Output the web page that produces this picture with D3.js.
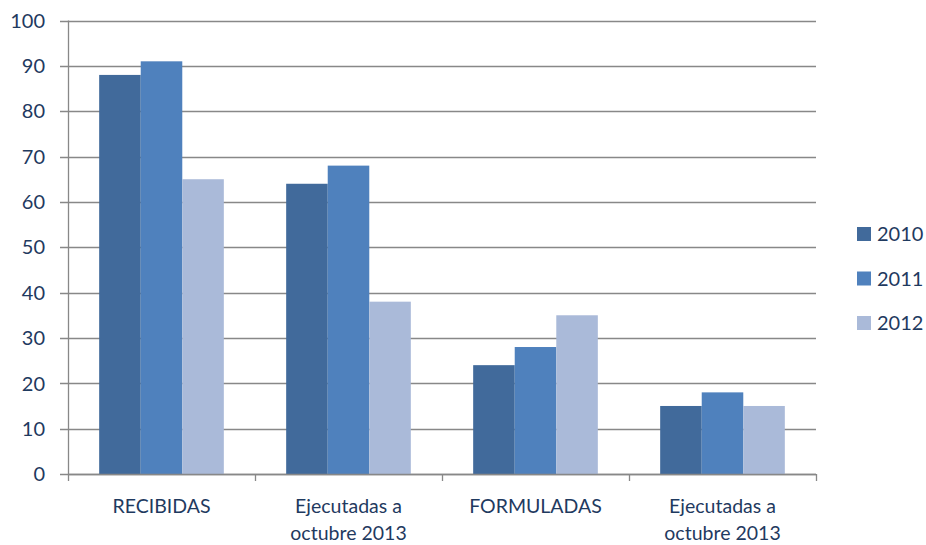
<!DOCTYPE html>
<html>
<head>
<meta charset="utf-8">
<script src="https://cdn.jsdelivr.net/npm/d3@7"></script>
<style>
  body { margin: 0; background: #fff; }
  svg { display: block; font-family: Lato, "Open Sans", sans-serif; }
</style>
</head>
<body>
<svg width="926" height="545"></svg>
<script>
var categories = ["RECIBIDAS", "Ejecutadas a\noctubre 2013", "FORMULADAS", "Ejecutadas a\noctubre 2013"];
var years = ["2010", "2011", "2012"];
var v2010 = [88, 64, 24, 15];
var v2011 = [91, 68, 28, 18];
var v2012 = [65, 38, 35, 15];
var yTicks = [0, 10, 20, 30, 40, 50, 60, 70, 80, 90, 100];
var colors = ["#416a9b", "#4f81bd", "#aabad9"];

var series = [v2010, v2011, v2012];
var textColor = "#1f3a5f";

var svg = d3.select("svg");
var plotLeft = 68, plotRight = 816, plotTop = 20.5, plotBottom = 474;

var x = d3.scaleBand()
    .domain(d3.range(categories.length))
    .range([plotLeft, plotRight]);

var xInner = d3.scaleBand()
    .domain(years)
    .range([0, x.bandwidth()])
    .paddingOuter(0.75)
    .paddingInner(0);

var y = d3.scaleLinear()
    .domain([0, 100])
    .range([plotBottom, plotTop]);

// gridlines
svg.append("g")
  .selectAll("line")
  .data(yTicks)
  .enter().append("line")
    .attr("x1", plotLeft - 8)
    .attr("x2", plotRight)
    .attr("y1", function(d) { return Math.round(y(d)) + 0.5; })
    .attr("y2", function(d) { return Math.round(y(d)) + 0.5; })
    .attr("stroke", "#888")
    .attr("stroke-width", 1.3);

// y labels
svg.append("g")
  .selectAll("text")
  .data(yTicks)
  .enter().append("text")
    .attr("x", 45)
    .attr("y", function(d) { return y(d); })
    .attr("dy", "0.36em")
    .attr("text-anchor", "end")
    .attr("font-size", 20)
    .attr("fill", textColor)
    .text(function(d) { return d; });

// bars
var group = svg.append("g")
  .selectAll("g")
  .data(categories)
  .enter().append("g")
    .attr("transform", function(d, i) { return "translate(" + x(i) + ",0)"; });

group.selectAll("rect")
  .data(function(d, i) { return years.map(function(yr, j) { return { year: yr, value: series[j][i], j: j }; }); })
  .enter().append("rect")
    .attr("x", function(d) { return xInner(d.year); })
    .attr("width", xInner.bandwidth())
    .attr("y", function(d) { return y(d.value); })
    .attr("height", function(d) { return plotBottom - y(d.value); })
    .attr("fill", function(d) { return colors[d.j]; });

// y axis line
svg.append("line")
    .attr("x1", plotLeft + 0.5).attr("x2", plotLeft + 0.5)
    .attr("y1", plotTop).attr("y2", plotBottom)
    .attr("stroke", "#888").attr("stroke-width", 1.3);

// x axis line + ticks
svg.append("line")
    .attr("x1", plotLeft).attr("x2", plotRight)
    .attr("y1", plotBottom + 0.5).attr("y2", plotBottom + 0.5)
    .attr("stroke", "#888").attr("stroke-width", 1.3);

svg.append("g")
  .selectAll("line")
  .data(d3.range(categories.length + 1))
  .enter().append("line")
    .attr("x1", function(i) { return Math.round(plotLeft + i * x.bandwidth()) + 0.5; })
    .attr("x2", function(i) { return Math.round(plotLeft + i * x.bandwidth()) + 0.5; })
    .attr("y1", plotBottom)
    .attr("y2", plotBottom + 7)
    .attr("stroke", "#888").attr("stroke-width", 1.3);

// category labels
var lab = svg.append("g")
  .selectAll("text")
  .data(categories)
  .enter().append("text")
    .attr("text-anchor", "middle")
    .attr("font-size", 19.5)
    .attr("fill", textColor)
    .attr("transform", function(d, i) { return "translate(" + (x(i) + x.bandwidth() / 2) + ",513)"; });

lab.selectAll("tspan")
  .data(function(d) { return d.split("\n"); })
  .enter().append("tspan")
    .attr("x", 0)
    .attr("y", function(d, i) { return i * 27; })
    .text(function(d) { return d; });

// legend
var legend = svg.append("g")
  .selectAll("g")
  .data(years)
  .enter().append("g")
    .attr("transform", function(d, i) { return "translate(857," + (227 + i * 44.5) + ")"; });

legend.append("rect")
    .attr("width", 14)
    .attr("height", 14)
    .attr("fill", function(d, i) { return colors[i]; });

legend.append("text")
    .attr("x", 20)
    .attr("y", 7)
    .attr("dy", "0.36em")
    .attr("font-size", 20)
    .attr("fill", textColor)
    .text(function(d) { return d; });
</script>
</body>
</html>
